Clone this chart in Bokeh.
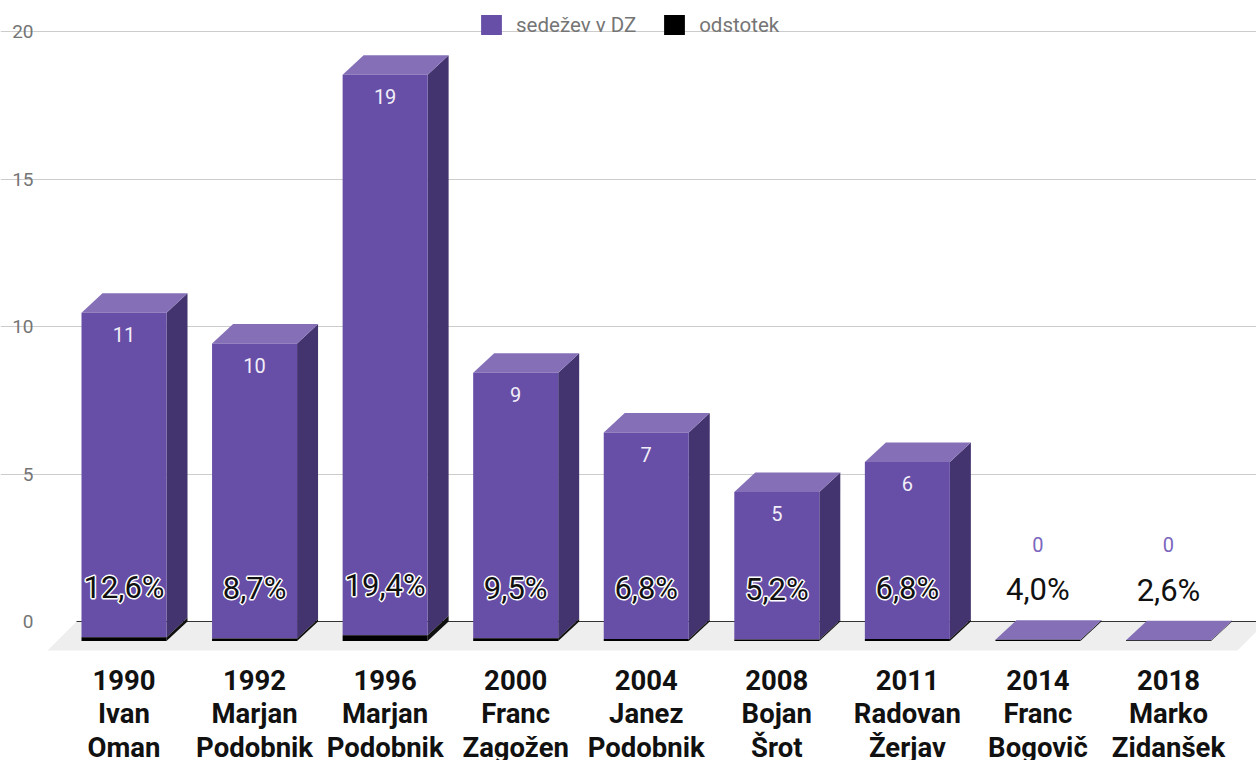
from bokeh.plotting import figure
from bokeh.models import ColumnDataSource, Range1d, FixedTicker, Legend, LegendItem
from bokeh.core.properties import value
from bokeh.embed import file_html
from bokeh.resources import INLINE

years = ["1990", "1992", "1996", "2000", "2004", "2008", "2011", "2014", "2018"]
leaders = ["Ivan\nOman", "Marjan\nPodobnik", "Marjan\nPodobnik", "Franc\nZagožen", "Janez\nPodobnik",
           "Bojan\nŠrot", "Radovan\nŽerjav", "Franc\nBogovič", "Marko\nZidanšek"]
seats = [11, 10, 19, 9, 7, 5, 6, 0, 0]
percent = [12.6, 8.7, 19.4, 9.5, 6.8, 5.2, 6.8, 4.0, 2.6]
percent_labels = ["12,6%", "8,7%", "19,4%", "9,5%", "6,8%", "5,2%", "6,8%", "4,0%", "2,6%"]
y_ticks = [0, 5, 10, 15, 20]
series_names = ["sedežev v DZ", "odstotek"]

W, H = 1256, 760
STEP = 130.56      # px per category
UNIT = 29.5        # px per value unit
X0, Y0 = 123.5, 621  # pixel of first category / zero line
px = lambda d: d / STEP
py = lambda d: d / UNIT

BAR = px(85)
DX, DY = px(21), py(19.5)
FRONT, SIDE, TOP = "#674ea7", "#43346f", "#8570b8"
FONT = value("Roboto")

p = figure(width=W, height=H, output_backend="svg", toolbar_location=None,
           x_range=Range1d(-X0 / STEP, (W - X0) / STEP),
           y_range=Range1d((Y0 - H) / UNIT, Y0 / UNIT),
           min_border=0, outline_line_color=None, background_fill_color="white",
           styles={"position": "absolute", "left": "0px", "top": "0px"})

n = len(years)
xs = list(range(n))
frac = [v / 100 for v in percent]
totals = [s + f for s, f in zip(seats, frac)]
left = [x - BAR / 2 for x in xs]
right = [x + BAR / 2 for x in xs]

wall_x = px(76 - X0)

# floor
p.patch([wall_x, wall_x + px(1190), wall_x + px(1161), wall_x - px(29)],
        [0, 0, -py(29), -py(29)], fill_color="#eeeeee", line_color=None)
# baseline
p.segment([wall_x], [0], [(W - X0) / STEP], [0], line_color="#333333", line_width=1.2)

src = ColumnDataSource(dict(x=xs, b0=[-DY] * n, b1=[-DY + f for f in frac],
                            b2=[-DY + t for t in totals]))

# sides
p.patches([[r, r + DX, r + DX, r] for r in right],
          [[-DY + f, f, t, -DY + t] for f, t in zip(frac, totals)],
          fill_color=SIDE, line_color=None)
p.patches([[r, r + DX, r + DX, r] for r in right],
          [[-DY, 0, f, -DY + f] for f in frac],
          fill_color="#111111", line_color=None)
# tops
p.patches([[l, r, r + DX, l + DX] for l, r in zip(left, right)],
          [[-DY + t, -DY + t, t, t] for t in totals],
          fill_color=TOP, line_color=None)
# fronts
r_seats = p.vbar(x="x", bottom="b1", top="b2", width=BAR, source=src, fill_color=FRONT, line_color=None)
r_pct = p.vbar(x="x", bottom="b0", top="b1", width=BAR, source=src, fill_color="#000000", line_color=None)

# value labels
pos = [i for i in xs if seats[i] > 0]
zero = [i for i in xs if seats[i] == 0]
p.text([xs[i] for i in pos], [-DY + totals[i] for i in pos], text=[str(seats[i]) for i in pos],
       text_color="#f1eef8", text_font=FONT, text_font_size="20px",
       text_align="center", text_baseline="middle", y_offset=22)
p.text([xs[i] for i in zero], [-DY + 0 for i in zero], text=[str(seats[i]) for i in zero],
       text_color="#7b66bd", text_font=FONT, text_font_size="20px",
       text_align="center", text_baseline="middle", y_offset=-97)
# white halo behind the percentages that sit on a bar
for ox, oy in ((-1, 0), (1, 0), (0, -1), (0, 1)):
    p.text([xs[i] for i in pos], [-DY + frac[i] for i in pos], text=[percent_labels[i] for i in pos],
           text_color="#ffffff", text_outline_color="#ffffff", text_font=FONT, text_font_size="31px",
           text_align="center", text_baseline="middle", x_offset=ox, y_offset=-50 + oy)
p.text(xs, [-DY + f for f in frac], text=percent_labels,
       text_color="#111111", text_font=FONT, text_font_size="31px",
       text_align="center", text_baseline="middle", y_offset=-50)

# axes
ya = p.yaxis[0]
ya.fixed_location = wall_x
ya.ticker = FixedTicker(ticks=y_ticks)
ya.axis_line_color = None
ya.major_tick_line_color = None
ya.minor_tick_line_color = None
ya.major_label_standoff = 37
ya.major_label_text_font = "Roboto"
ya.major_label_text_font_size = "19px"
ya.major_label_text_color = "#757575"

xa = p.xaxis[0]
xa.fixed_location = -py(657 - Y0)
xa.ticker = FixedTicker(ticks=xs)
xa.major_label_overrides = {i: f"{years[i]}\n{leaders[i]}" for i in xs}
xa.axis_line_color = None
xa.major_tick_line_color = None
xa.minor_tick_line_color = None
xa.major_label_standoff = 0
xa.major_label_text_font = "Roboto"
xa.major_label_text_font_style = "bold"
xa.major_label_text_font_size = "27.5px"
xa.major_label_text_color = "#111111"
xa.major_label_text_line_height = 1.03

p.xgrid.visible = False
g = p.ygrid[0]
g.ticker = FixedTicker(ticks=y_ticks[1:])
g.grid_line_color = "#cccccc"
g.grid_line_width = 1
g.bounds = (wall_x, (W - X0) / STEP)

legend = Legend(items=[LegendItem(label=series_names[0], renderers=[r_seats]),
                       LegendItem(label=series_names[1], renderers=[r_pct])],
                orientation="horizontal", location=(478, H - 37), padding=0, margin=0, spacing=25,
                glyph_width=26, glyph_height=25, label_standoff=12,
                background_fill_alpha=0, border_line_color=None,
                label_text_font="Roboto", label_text_font_size="20.5px", label_text_color="#757575")
p.add_layout(legend, "center")

open("out.html", "w").write(file_html(p, INLINE))
